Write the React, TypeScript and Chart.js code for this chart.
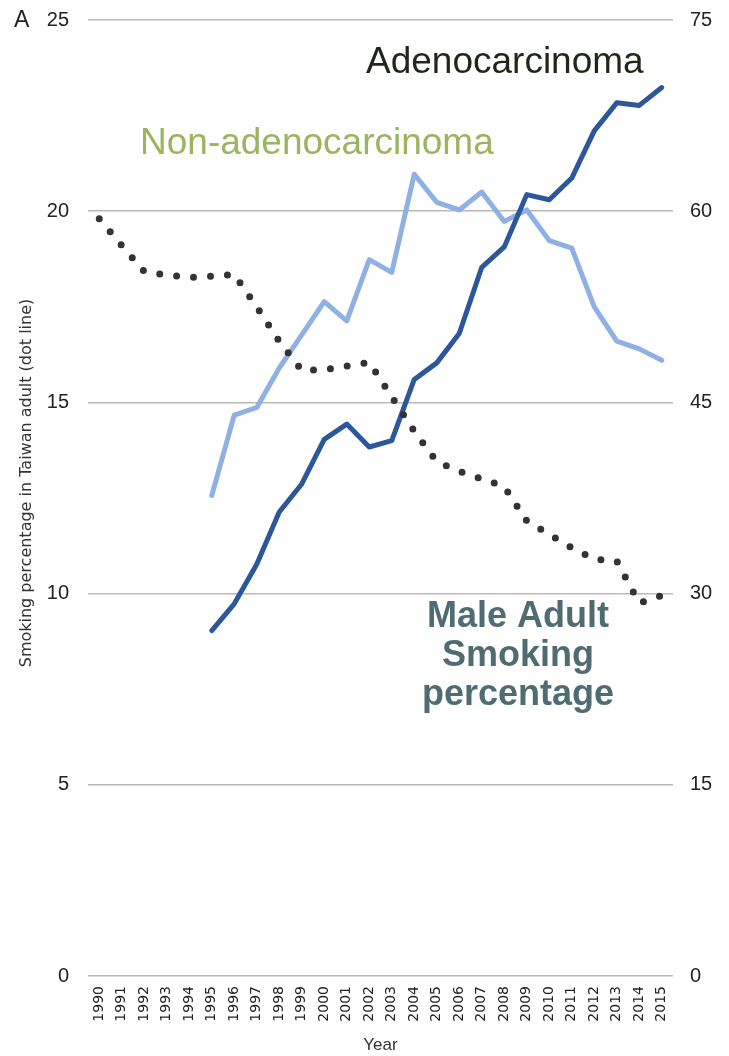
import { useEffect, useRef } from "react";
import { Chart, registerables } from "chart.js";

Chart.register(...registerables);

// Calendar years on the x axis
const years = [
  "1990", "1991", "1992", "1993", "1994", "1995", "1996", "1997", "1998", "1999",
  "2000", "2001", "2002", "2003", "2004", "2005", "2006", "2007", "2008", "2009",
  "2010", "2011", "2012", "2013", "2014", "2015",
];

// Male adult smoking percentage in Taiwan (left axis, dotted line)
const smokingPct = [
  19.8, 19.1, 18.42, 18.33, 18.27, 18.3, 18.35, 17.5, 16.6, 15.84,
  15.85, 15.95, 16.05, 15.15, 14.25, 13.45, 13.2, 13.0, 12.8, 11.9,
  11.55, 11.2, 10.9, 10.85, 9.75, 9.95,
];

// Adenocarcinoma (right axis, dark solid line)
const adenocarcinoma = [
  null, null, null, null, null, 27.1, 29.2, 32.3, 36.4, 38.6,
  42.1, 43.3, 41.5, 42.0, 46.8, 48.1, 50.4, 55.6, 57.2, 61.3,
  60.9, 62.6, 66.3, 68.5, 68.3, 69.7,
];

// Non-adenocarcinoma (right axis, light solid line)
const nonAdenocarcinoma = [
  null, null, null, null, null, 37.7, 44.0, 44.6, 47.7, 50.3,
  52.9, 51.4, 56.2, 55.2, 62.9, 60.7, 60.1, 61.5, 59.2, 60.1,
  57.7, 57.1, 52.5, 49.8, 49.2, 48.3,
];

const leftTicks = [0, 5, 10, 15, 20, 25];
const rightTicks = [0, 15, 30, 45, 60, 75];

const panelLetter = "A";
const leftAxisTitle = "Smoking percentage in Taiwan adult (dot line)";
const xAxisTitle = "Year";
const adenoLabel = "Adenocarcinoma";
const nonAdenoLabel = "Non-adenocarcinoma";
const smokingLabelLines = ["Male Adult", "Smoking", "percentage"];

const SANS = '"Liberation Sans", Arial, Helvetica, sans-serif';
const DEJAVU = '"DejaVu Sans", sans-serif';

// Free-floating text: panel letter, rotated left title and series captions
const annotationPlugin = {
  id: "annotations",
  afterDraw(chart: any) {
    const ctx: CanvasRenderingContext2D = chart.ctx;
    ctx.save();

    ctx.fillStyle = "#222";
    ctx.font = `23px ${SANS}`;
    ctx.textAlign = "left";
    ctx.textBaseline = "middle";
    ctx.fillText(panelLetter, 14, 21);

    ctx.textBaseline = "alphabetic";
    ctx.font = `37px ${SANS}`;
    ctx.fillStyle = "#1f2719";
    ctx.fillText(adenoLabel, 366, 73);
    ctx.fillStyle = "#9cb35f";
    ctx.fillText(nonAdenoLabel, 140, 154);

    ctx.font = `bold 36px ${SANS}`;
    ctx.fillStyle = "#4f6c73";
    ctx.textAlign = "center";
    smokingLabelLines.forEach((line, i) => {
      ctx.fillText(line, 518, 627 + i * 39);
    });

    ctx.save();
    ctx.translate(27, 483);
    ctx.rotate(-Math.PI / 2);
    ctx.font = `16px ${DEJAVU}`;
    ctx.fillStyle = "#333";
    ctx.textAlign = "center";
    ctx.textBaseline = "middle";
    ctx.fillText(leftAxisTitle, 0, 0);
    ctx.restore();

    ctx.restore();
  },
};

// Keep the vertical axes from pushing the plot area in for their end labels
const noEndPadding = (scale: any) => {
  scale.paddingTop = 0;
  scale.paddingBottom = 0;
};

export default function App() {
  const canvasRef = useRef<HTMLCanvasElement | null>(null);

  useEffect(() => {
    const canvas = canvasRef.current;
    if (!canvas) return;
    const chart = new Chart(canvas, {
      type: "line",
      data: {
        labels: years,
        datasets: [
          {
            label: "Male adult smoking percentage",
            data: smokingPct,
            yAxisID: "yLeft",
            borderColor: "#333333",
            borderWidth: 7,
            borderDash: [0, 17],
            borderCapStyle: "round",
            borderJoinStyle: "round",
            pointRadius: 0,
            fill: false,
            tension: 0,
          },
          {
            label: adenoLabel,
            data: adenocarcinoma,
            yAxisID: "yRight",
            borderColor: "#2c579b",
            borderWidth: 5,
            borderJoinStyle: "round",
            borderCapStyle: "round",
            pointRadius: 0,
            fill: false,
            tension: 0,
          },
          {
            label: nonAdenoLabel,
            data: nonAdenocarcinoma,
            yAxisID: "yRight",
            borderColor: "#8fb0e3",
            borderWidth: 5,
            borderJoinStyle: "round",
            borderCapStyle: "round",
            pointRadius: 0,
            fill: false,
            tension: 0,
          },
        ],
      },
      options: {
        responsive: false,
        animation: false,
        layout: { padding: { top: 20, left: 0, right: 0, bottom: 0 } },
        plugins: {
          legend: { display: false },
          tooltip: { enabled: false },
        },
        scales: {
          x: {
            type: "category",
            offset: true,
            grid: { display: false, drawTicks: false },
            border: { display: false },
            ticks: {
              autoSkip: false,
              minRotation: 90,
              maxRotation: 90,
              padding: 10,
              color: "#222",
              font: { family: DEJAVU, size: 14 },
            },
            title: {
              display: true,
              text: xAxisTitle,
              color: "#333",
              font: { family: SANS, size: 17 },
              padding: { top: 0, bottom: 0 },
            },
            afterFit: (scale: any) => {
              scale.height = 80;
            },
          },
          yLeft: {
            type: "linear",
            position: "left",
            min: leftTicks[0],
            max: leftTicks[leftTicks.length - 1],
            ticks: {
              stepSize: leftTicks[1] - leftTicks[0],
              padding: 19,
              color: "#222",
              font: { family: SANS, size: 20 },
            },
            grid: { color: "#b9b9b9", lineWidth: 1.5, drawTicks: false },
            border: { display: false },
            afterFit: (scale: any) => {
              scale.width = 88;
              noEndPadding(scale);
            },
          },
          yRight: {
            type: "linear",
            position: "right",
            min: rightTicks[0],
            max: rightTicks[rightTicks.length - 1],
            ticks: {
              stepSize: rightTicks[1] - rightTicks[0],
              padding: 17,
              color: "#222",
              font: { family: SANS, size: 20 },
            },
            grid: { display: false, drawTicks: false },
            border: { display: false },
            afterFit: (scale: any) => {
              scale.width = 56;
              noEndPadding(scale);
            },
          },
        },
      },
      plugins: [annotationPlugin],
    } as any);
    return () => chart.destroy();
  }, []);

  return (
    <div style={{ position: "absolute", left: 0, top: 0, width: 729, height: 1056, background: "#fff" }}>
      <canvas ref={canvasRef} width={729} height={1056} style={{ display: "block" }} />
    </div>
  );
}
